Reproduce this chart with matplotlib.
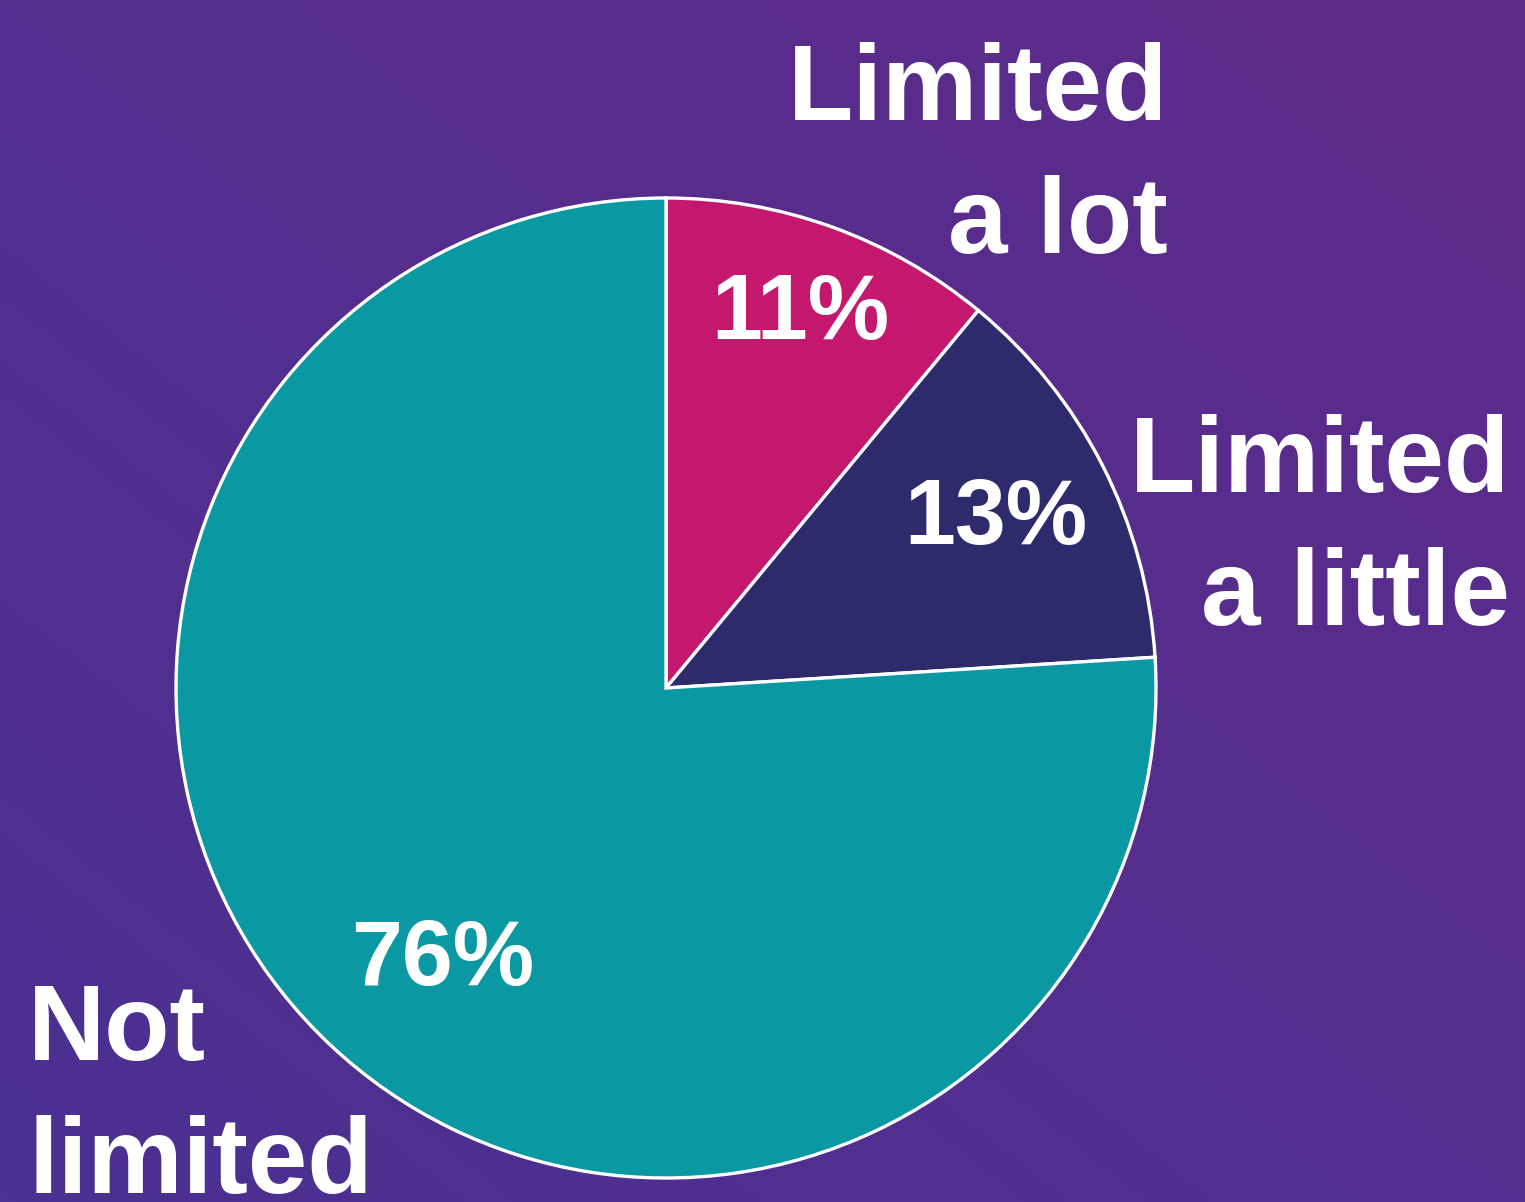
import numpy as np
import matplotlib.pyplot as plt
from matplotlib.colors import LinearSegmentedColormap

categories = ['Limited\na lot', 'Limited\na little', 'Not\nlimited']
shares = [11, 13, 76]
colors = ['#c4186e', '#2e2b6c', '#0a98a3']

W, H = 1525, 1202
cx, cy, R = 666, H - 688, 490

fig = plt.figure(figsize=(W / 100, H / 100), dpi=100)
ax = fig.add_axes([0, 0, 1, 1])

# purple background, a bit bluer toward the bottom left
bg = LinearSegmentedColormap.from_list('bg', ['#4a3192', '#5e2b8a'])
gx, gy = np.meshgrid(np.linspace(0, 1, 200), np.linspace(0, 1, 200))
ax.imshow((gx + gy) / 2, cmap=bg, extent=(0, W, 0, H), origin='lower',
          aspect='auto', zorder=0)

wedges, texts, autotexts = ax.pie(
    shares, colors=colors, startangle=90, counterclock=False,
    center=(cx, cy), radius=R, autopct='%d%%', pctdistance=0.76,
    wedgeprops=dict(edgecolor='white', linewidth=2.4),
    textprops=dict(color='white', fontsize=66, fontweight='bold',
                   family='Liberation Sans'))

# nudge the percent labels where the original has them
pct_dist = [0.81, 0.755, 0.72]
pct_turn = [0, 0, 4]
for w, t, d, a in zip(wedges, autotexts, pct_dist, pct_turn):
    ang = np.deg2rad((w.theta1 + w.theta2) / 2 + a)
    t.set_position((cx + d * R * np.cos(ang), cy + d * R * np.sin(ang)))
    t.set_zorder(5)

lab = dict(color='white', fontsize=77, fontweight='bold',
           family='Liberation Sans', va='top', linespacing=1.42, zorder=5)
ax.text(1168, H - 42, categories[0], ha='right', multialignment='right', **lab)
ax.text(1510, H - 414, categories[1], ha='right', multialignment='right', **lab)
ax.text(28, H - 982, categories[2], ha='left', multialignment='left', **lab)

ax.set_xlim(0, W)
ax.set_ylim(0, H)
ax.set_aspect('equal')
ax.axis('off')

fig.savefig('out.png', dpi=100)
